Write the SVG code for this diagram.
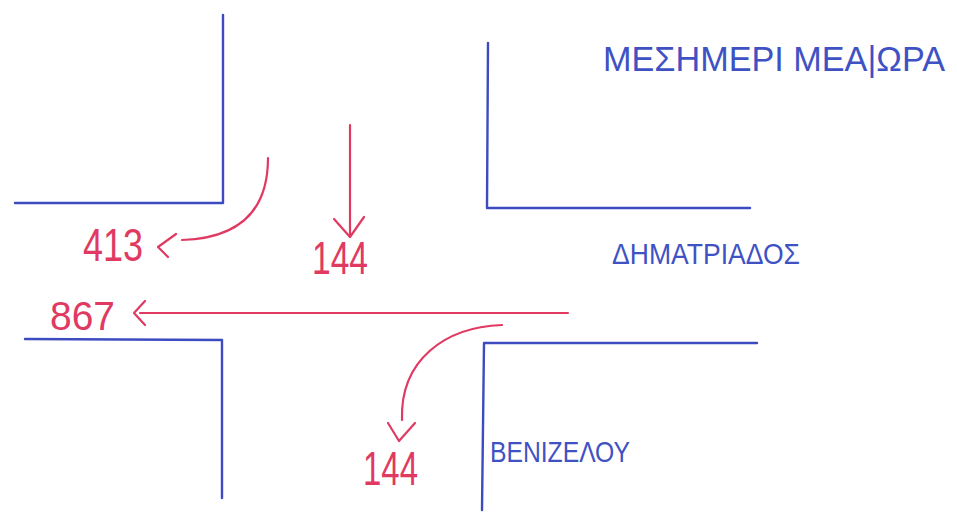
<svg xmlns="http://www.w3.org/2000/svg" width="957" height="516" viewBox="0 0 957 516">
  <style>
    .kerb { fill: none; stroke: #3c4cc0; stroke-width: 2.4; stroke-linecap: round; stroke-linejoin: round; }
    .flow { fill: none; stroke: #e03a62; stroke-width: 2.2; stroke-linecap: round; stroke-linejoin: round; }
    .street { font-family: "Liberation Sans", "DejaVu Sans", sans-serif; fill: #3f52c4; }
    .count { font-family: "Liberation Sans", "DejaVu Sans", sans-serif; fill: #e03a62; }
  </style>
  <rect width="957" height="516" fill="#ffffff"/>

  <!-- kerb lines of the four corners -->
  <g id="corner-nw"><path class="kerb" d="M223,15 L223,203 L15,203"/></g>
  <g id="corner-ne"><path class="kerb" d="M488,43 L487,208 L750,208"/></g>
  <g id="corner-sw"><path class="kerb" d="M25,339 L222,340 L222,498"/></g>
  <g id="corner-se"><path class="kerb" d="M757,343 L484,343 L482,510"/></g>

  <!-- street names and period -->
  <g id="title"><text class="street" x="603" y="71" font-size="35" textLength="342" lengthAdjust="spacingAndGlyphs">ΜΕΣΗΜΕΡΙ ΜΕΑ|ΩΡΑ</text></g>
  <g id="street-dimitriados"><text class="street" x="612" y="264" font-size="29" textLength="188" lengthAdjust="spacingAndGlyphs">ΔΗΜΑΤΡΙΑΔΟΣ</text></g>
  <g id="street-venizelou"><text class="street" x="490" y="462" font-size="29" textLength="140" lengthAdjust="spacingAndGlyphs">ΒΕΝΙΖΕΛΟΥ</text></g>

  <!-- traffic counts -->
  <g id="count-413"><text class="count" x="83" y="261" font-size="46" textLength="60" lengthAdjust="spacingAndGlyphs">413</text></g>
  <g id="count-144-south"><text class="count" x="312" y="274" font-size="46" textLength="56" lengthAdjust="spacingAndGlyphs">144</text></g>
  <g id="count-867"><text class="count" x="50" y="330" font-size="40" textLength="65" lengthAdjust="spacingAndGlyphs">867</text></g>
  <g id="count-144-venizelou"><text class="count" x="363" y="485" font-size="48" textLength="55" lengthAdjust="spacingAndGlyphs">144</text></g>

  <!-- turning movements -->
  <g id="connectors">
    <path class="flow" d="M268,158 C268,205 245,238 182,240"/>
    <path class="flow" d="M176,234 L158,247 L168,257"/>

    <path class="flow" d="M350,125 L350,237"/>
    <path class="flow" d="M334,219 L350,237 L364,217"/>

    <path class="flow" d="M568,313 L140,313"/>
    <path class="flow" d="M145,301 L134,313 L145,325"/>

    <path class="flow" d="M502,325 C445,327 400,360 402,420"/>
    <path class="flow" d="M388,423 L399,441 L415,423"/>
  </g>
</svg>
